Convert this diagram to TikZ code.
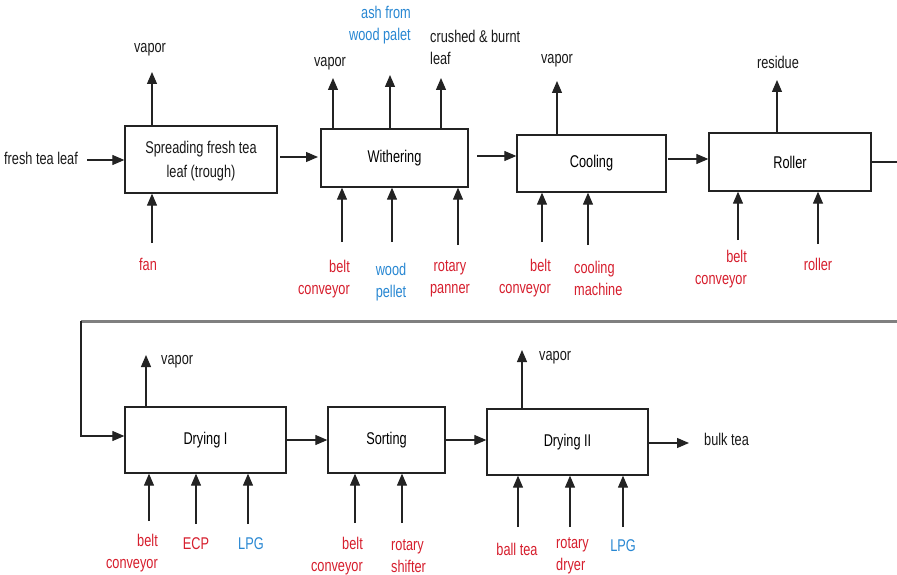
\documentclass[tikz,border=0pt]{standalone}
\usepackage{fontspec}
\setmainfont{Liberation Sans}[FakeStretch=0.75]
\usetikzlibrary{arrows.meta}
\definecolor{lblred}{RGB}{214,30,45}
\definecolor{lblblue}{RGB}{40,135,210}
\definecolor{linegray}{RGB}{35,35,35}
\tikzset{
  every node/.style={font=\fontsize{17}{22}\selectfont, inner sep=0pt},
  box/.style={draw=linegray, line width=1.3pt, fill=white},
  arr/.style={draw=linegray, line width=1.2pt, -{Triangle[length=12pt,width=10pt]}},
  ln/.style={draw=linegray, line width=1.2pt},
  redlbl/.style={text=lblred},
  bluelbl/.style={text=lblblue},
  blklbl/.style={text=black!90},
}
\begin{document}
\begin{tikzpicture}[x=1pt,y=-1pt]
\useasboundingbox (0,0) rectangle (897,575);
% boxes
\node[box, minimum width=152, minimum height=67] (b1) at (201,159.5) {};
\node[blklbl, align=center, font=\fontsize{17}{24}\selectfont] (b1t) at (201,161) {Spreading fresh tea\\leaf (trough)};
\node[box, minimum width=147, minimum height=58] (b2) at (394.5,158) {Withering};
\node[box, minimum width=149, minimum height=57] (b3) at (591.5,163.5) {Cooling};
\node[box, minimum width=162, minimum height=58] (b4) at (790,162) {Roller};
\node[box, minimum width=161, minimum height=66] (d1) at (205.5,440) {Drying I};
\node[box, minimum width=117, minimum height=66] (s) at (386.5,440) {Sorting};
\node[box, minimum width=161, minimum height=66] (d2) at (567.5,442) {Drying II};

% top labels
\node[blklbl] (v1) at (150,50) {vapor};
\node[blklbl] (v2) at (330,64) {vapor};
\node[bluelbl, align=right, anchor=east] (ash) at (411,25) {ash from\\wood palet};
\node[blklbl, align=left, anchor=west] (crush) at (430,47) {crushed \& burnt\\leaf};
\node[blklbl] (v3) at (557,61) {vapor};
\node[blklbl] (res) at (778,62) {residue};
\node[blklbl, anchor=west] (v4) at (161,362) {vapor};
\node[blklbl, anchor=west] (v5) at (539,358) {vapor};
\node[blklbl] (fresh) at (41,158) {fresh tea leaf};
\node[blklbl, anchor=west] (bulk) at (704,439) {bulk tea};

% bottom labels row 1
\node[redlbl] (fan) at (148,264) {fan};
\node[redlbl, align=right, anchor=east] (bc1) at (350,279) {belt\\conveyor};
\node[bluelbl, align=center] (wp) at (391,282) {wood\\pellet};
\node[redlbl, align=center] (rp) at (450,279) {rotary\\panner};
\node[redlbl, align=right, anchor=east] (bc2) at (551,278) {belt\\conveyor};
\node[redlbl, align=left, anchor=west] (cm) at (574,278) {cooling\\machine};
\node[redlbl, align=right, anchor=east] (bc3) at (747,269.5) {belt\\conveyor};
\node[redlbl] (rol) at (818,264) {roller};
% bottom labels row 2
\node[redlbl, align=right, anchor=east] (bc4) at (158,553) {belt\\conveyor};
\node[redlbl] (ecp) at (196,544) {ECP};
\node[bluelbl] (lpg1) at (251,544) {LPG};
\node[redlbl, align=right, anchor=east] (bc5) at (363,556) {belt\\conveyor};
\node[redlbl, align=left, anchor=west] (rs) at (391,556.5) {rotary\\shifter};
\node[redlbl] (bt) at (517,549) {ball tea};
\node[redlbl, align=left, anchor=west] (rd) at (556,556) {rotary\\dryer};
\node[bluelbl] (lpg2) at (623,546) {LPG};

% coordinates for arrow ends
\coordinate (v1e) at (152,72);
\coordinate (v2e) at (333,78);
\coordinate (ashe) at (390,75);
\coordinate (cre) at (441,78);
\coordinate (v3e) at (557,81);
\coordinate (rese) at (777,80);
\coordinate (v4e) at (146,355);
\coordinate (v5e) at (522,350);

\coordinate (fane) at (152,243);
\coordinate (bc1e) at (342,242);
\coordinate (wpe) at (392,242);
\coordinate (rpe) at (458,245);
\coordinate (bc2e) at (542,242);
\coordinate (cme) at (588,245);
\coordinate (bc3e) at (738,240);
\coordinate (role) at (818,244);
\coordinate (bc4e) at (149,521);
\coordinate (ecpe) at (196,524);
\coordinate (lpg1e) at (248,524);
\coordinate (bc5e) at (355,523);
\coordinate (rse) at (402,523);
\coordinate (bte) at (518,527);
\coordinate (rde) at (570,527);
\coordinate (lpg2e) at (623,527);

% output arrows (up)
\draw[arr] (b1.north -| v1e) -- (v1e);
\draw[arr] (b2.north -| v2e) -- (v2e);
\draw[arr] (b2.north -| ashe) -- (ashe);
\draw[arr] (b2.north -| cre) -- (cre);
\draw[arr] (b3.north -| v3e) -- (v3e);
\draw[arr] (b4.north -| rese) -- (rese);
\draw[arr] (d1.north -| v4e) -- (v4e);
\draw[arr] (d2.north -| v5e) -- (v5e);

% input arrows (up into boxes)
\draw[arr] (fane) -- (b1.south -| fane);
\draw[arr] (bc1e) -- (b2.south -| bc1e);
\draw[arr] (wpe) -- (b2.south -| wpe);
\draw[arr] (rpe) -- (b2.south -| rpe);
\draw[arr] (bc2e) -- (b3.south -| bc2e);
\draw[arr] (cme) -- (b3.south -| cme);
\draw[arr] (bc3e) -- (b4.south -| bc3e);
\draw[arr] (role) -- (b4.south -| role);
\draw[arr] (bc4e) -- (d1.south -| bc4e);
\draw[arr] (ecpe) -- (d1.south -| ecpe);
\draw[arr] (lpg1e) -- (d1.south -| lpg1e);
\draw[arr] (bc5e) -- (s.south -| bc5e);
\draw[arr] (rse) -- (s.south -| rse);
\draw[arr] (bte) -- (d2.south -| bte);
\draw[arr] (rde) -- (d2.south -| rde);
\draw[arr] (lpg2e) -- (d2.south -| lpg2e);

% main flow
\coordinate (fs) at (87,160);
\draw[arr] (fs) -- (b1.west |- fs);
\coordinate (f12) at (280,157);
\coordinate (f12e) at (318,157);
\draw[arr] (f12) -- (f12e);
\coordinate (f23) at (477,156);
\draw[arr] (f23) -- (b3.west |- f23);
\coordinate (f34) at (668,159);
\draw[arr] (f34) -- (b4.west |- f34);
\coordinate (rout) at (897,162);
\draw[ln] (b4.east |- rout) -- (rout);
\coordinate (gr) at (897,321);
\coordinate (gl) at (81,321);
\draw[draw=black!50, line width=3pt] (gr) -- (gl);
\coordinate (gd) at (81,436);
\draw[arr] (gl) -- (gd) -- (d1.west |- gd);
\coordinate (fd1) at (287,440);
\draw[arr] (fd1) -- (s.west |- fd1);
\coordinate (fs2) at (446,440);
\draw[arr] (fs2) -- (d2.west |- fs2);
\coordinate (fb) at (649,443);
\coordinate (fbe) at (689,443);
\draw[arr] (fb) -- (fbe);
\end{tikzpicture}
\end{document}
